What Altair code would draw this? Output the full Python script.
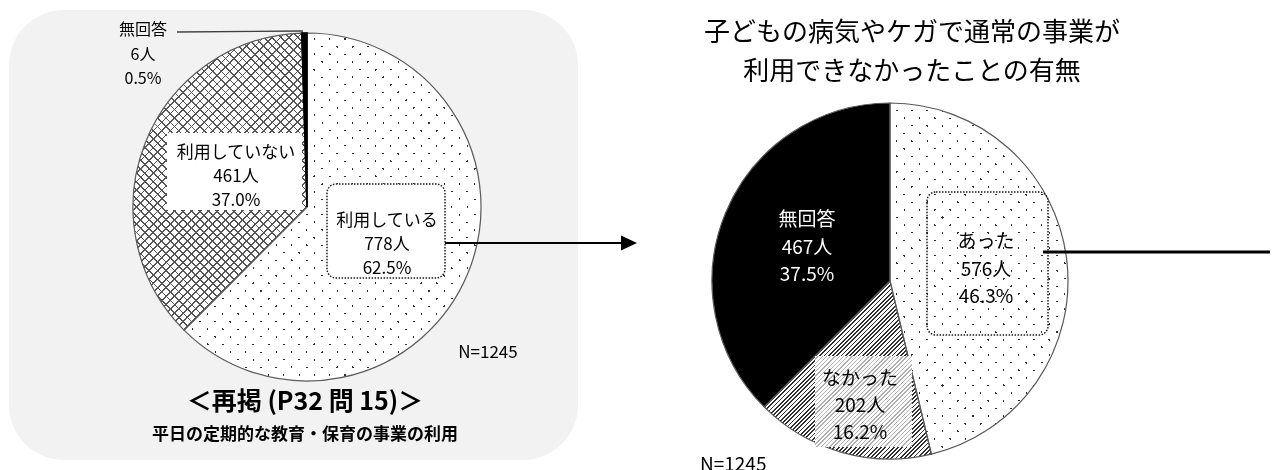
import math
import altair as alt
import pandas as pd

# ---------------- data ----------------
TOTAL = 1245
left_categories = ["利用している", "利用していない", "無回答"]
left_counts = [778, 461, 6]
left_percents = ["62.5%", "37.0%", "0.5%"]

right_categories = ["あった", "なかった", "無回答"]
right_counts = [576, 202, 467]
right_percents = ["46.3%", "16.2%", "37.5%"]

left_title = "＜再掲 (P32 問 15)＞"
left_subtitle = "平日の定期的な教育・保育の事業の利用"
right_title_lines = ["子どもの病気やケガで通常の事業が", "利用できなかったことの有無"]
n_label = "N=1245"

# ---------------- layout ----------------
W, H = 1262, 462
OFF = 8
FONT = "Noto Sans CJK JP"


def px(v):
    return v - OFF


LEFT = dict(cx=px(307), cy=px(207), r=174)
RIGHT = dict(cx=px(890), cy=px(281), r=178)
theta_scale = alt.Scale(domain=[0, TOTAL], range=[0, 2 * math.pi])


def pie_df(cats, counts, pcts):
    return pd.DataFrame({
        "cat": cats,
        "n": counts,
        "pct": pcts,
        "order": list(range(len(cats))),
        "label": [f"{c}\n{n}人\n{p}" for c, n, p in zip(cats, counts, pcts)],
    })


left_df = pie_df(left_categories, left_counts, left_percents)
right_df = pie_df(right_categories, right_counts, right_percents)
one = pd.DataFrame({"k": [0]})


def sector_wh(counts, idx, r):
    start = sum(counts[:idx])
    end = start + counts[idx]
    a0 = start / TOTAL * 2 * math.pi
    a1 = end / TOTAL * 2 * math.pi
    angles = [a0, a1] + [k * math.pi / 2 for k in range(5) if a0 < k * math.pi / 2 < a1]
    xs = [0.0] + [r * math.sin(a) for a in angles]
    ys = [0.0] + [-r * math.cos(a) for a in angles]
    return max(xs) - min(xs), max(ys) - min(ys)


def stripe_fill(w, h, ux, uy, period, lw, bg, fg):
    n = math.hypot(ux, uy)
    ux, uy = ux / n, uy / n
    L = abs(ux) * w + abs(uy) * h
    k = L / (ux * ux * w * w + uy * uy * h * h)
    x1 = 0.0 if ux >= 0 else 1.0
    y1 = 0.0 if uy >= 0 else 1.0
    x2 = x1 + k * ux * w
    y2 = y1 + k * uy * h
    stops = []
    s = 0.0
    while s < L:
        a = round(s / L, 5)
        b = round(min((s + period - lw) / L, 1.0), 5)
        c = round(min((s + period) / L, 1.0), 5)
        stops += [
            alt.GradientStop(offset=a, color=bg),
            alt.GradientStop(offset=b, color=bg),
            alt.GradientStop(offset=b, color=fg),
            alt.GradientStop(offset=c, color=fg),
        ]
        s += period
    return alt.LinearGradient(gradient="linear", stops=stops,
                              x1=round(x1, 5), y1=round(y1, 5), x2=round(x2, 5), y2=round(y2, 5))


def slice_layer(df, cat, pie, **mark):
    return alt.Chart(df).transform_window(
        end="sum(n)", sort=[alt.SortField("order")], frame=[None, 0]
    ).transform_calculate(
        start="datum.end - datum.n"
    ).transform_filter(
        alt.datum.cat == cat
    ).mark_arc(radius=pie["r"], **mark).encode(
        theta=alt.Theta("start:Q", scale=theta_scale, stack=None),
        theta2="end:Q",
        x=alt.value(pie["cx"]),
        y=alt.value(pie["cy"]),
    )


def outline_layer(df, pie, stroke="#595959", sw=1.2):
    return alt.Chart(df).transform_window(
        end="sum(n)", sort=[alt.SortField("order")], frame=[None, 0]
    ).transform_calculate(
        start="datum.end - datum.n"
    ).mark_arc(radius=pie["r"], fill="white", fillOpacity=0, stroke=stroke, strokeWidth=sw).encode(
        theta=alt.Theta("start:Q", scale=theta_scale, stack=None),
        theta2="end:Q",
        x=alt.value(pie["cx"]),
        y=alt.value(pie["cy"]),
    )


def dots_layers(df, counts, idx, pie):
    cat = df["cat"][idx]
    w, h = sector_wh(counts, idx, pie["r"])
    a = stripe_fill(w, h, 1, 1, 10.8, 1.5, "#ffffff", "#303030")
    b = stripe_fill(w, h, 1, -1, 10.8, 1.5, "#ffffff", "#303030")
    return [slice_layer(df, cat, pie, fill=a),
            slice_layer(df, cat, pie, fill=b, blend="lighten")]


def cross_layers(df, counts, idx, pie):
    cat = df["cat"][idx]
    w, h = sector_wh(counts, idx, pie["r"])
    a = stripe_fill(w, h, 1, 1, 6.0, 1.2, "#ffffff", "#555555")
    b = stripe_fill(w, h, 1, -1, 6.0, 1.2, "#ffffff", "#555555")
    return [slice_layer(df, cat, pie, fill=a),
            slice_layer(df, cat, pie, fill=b, blend="darken")]


def hatch_layer(df, counts, idx, pie):
    cat = df["cat"][idx]
    w, h = sector_wh(counts, idx, pie["r"])
    g = stripe_fill(w, h, 1, 1, 3.0, 1.3, "#ffffff", "#303030")
    return slice_layer(df, cat, pie, fill=g)


def rect(x0, y0, x1, y1, **mark):
    return alt.Chart(one).mark_rect(**mark).encode(
        x=alt.value(px(x0)), x2=alt.value(px(x1)),
        y=alt.value(px(y0)), y2=alt.value(px(y1)),
    )


def rule(x0, y0, x1, y1, **mark):
    return alt.Chart(one).mark_rule(**mark).encode(
        x=alt.value(px(x0)), x2=alt.value(px(x1)),
        y=alt.value(px(y0)), y2=alt.value(px(y1)),
    )


def static_text(txt, x, y, size, weight="normal", color="black", align="center"):
    return alt.Chart(one).mark_text(
        text=txt, font=FONT, fontSize=size, fontWeight=weight, color=color,
        align=align, baseline="middle",
    ).encode(x=alt.value(px(x)), y=alt.value(px(y)))


def label(df, cat, x, y_first, size, lh, color="black"):
    # y_first: centre of the first line
    return alt.Chart(df).transform_filter(alt.datum.cat == cat).mark_text(
        font=FONT, fontSize=size, color=color, align="center", baseline="middle",
        lineBreak="\n", lineHeight=lh,
    ).encode(text="label:N", x=alt.value(px(x)), y=alt.value(px(y_first + 3)))


layers = []
# background rounded box (left)
layers.append(rect(9, 10, 578, 460, fill="#f2f2f2", cornerRadius=55))

# left pie
layers += dots_layers(left_df, left_counts, 0, LEFT)
layers += cross_layers(left_df, left_counts, 1, LEFT)
layers.append(outline_layer(left_df, LEFT))
layers.append(slice_layer(left_df, "無回答", LEFT, fill="black", stroke="black", strokeWidth=1.6))

# right pie
layers += dots_layers(right_df, right_counts, 0, RIGHT)
layers.append(hatch_layer(right_df, right_counts, 1, RIGHT))
layers.append(slice_layer(right_df, "無回答", RIGHT, fill="black"))
layers.append(outline_layer(right_df, RIGHT))

# label boxes
layers.append(rect(167, 133, 302, 210, fill="white"))
layers.append(rect(327, 184, 445, 278, fill="white", stroke="#1a1a1a", strokeWidth=1.5,
                   strokeDash=[1.5, 1.5], cornerRadius=9))
layers.append(rect(927, 192, 1048, 335, fill="white", fillOpacity=0, stroke="#1a1a1a",
                   strokeWidth=1.5, strokeDash=[1.5, 1.5], cornerRadius=9))
light = stripe_fill(97, 91, 1, 1, 3.0, 1.0, "#ffffff", "#b0b0b0")
layers.append(rect(815, 356, 912, 447, fill=light))

# leader lines and arrow
layers.append(rule(177, 32, 303, 31, color="#404040", strokeWidth=1.4))
layers.append(rule(445, 243, 625, 243, color="black", strokeWidth=2))
layers.append(alt.Chart(one).mark_point(
    shape="M -1 -0.95 L 1 0 L -1 0.95 Z", size=256, filled=True, color="black", opacity=1
).encode(x=alt.value(px(629)), y=alt.value(px(243))))
layers.append(rule(1043, 252, 1290, 252, color="black", strokeWidth=3))

# labels
layers.append(label(left_df, "無回答", 143, 27, 16, 24.5))
layers.append(label(left_df, "利用していない", 236, 150, 17, 24))
layers.append(label(left_df, "利用している", 387, 218, 17, 24))
layers.append(label(right_df, "無回答", 807, 217, 19, 27.5, color="white"))
layers.append(label(right_df, "あった", 986, 239, 19, 27.5))
layers.append(label(right_df, "なかった", 860, 376, 19, 27))

# titles and notes
layers.append(static_text(n_label, 488, 353, 17))
layers.append(static_text(n_label, 700, 465, 19, align="left"))
layers.append(static_text(left_title, 305, 402, 25, weight="bold"))
layers.append(static_text(left_subtitle, 305, 435, 17, weight="bold"))
layers.append(static_text(right_title_lines[0], 912, 33, 26))
layers.append(static_text(right_title_lines[1], 912, 72, 26))

chart = alt.layer(*layers).properties(
    width=W, height=H, padding=0,
    autosize=alt.AutoSizeParams(type="none"),
).configure_view(stroke=None)

chart.save("out.html", embed_options={"renderer": "svg", "actions": False})
